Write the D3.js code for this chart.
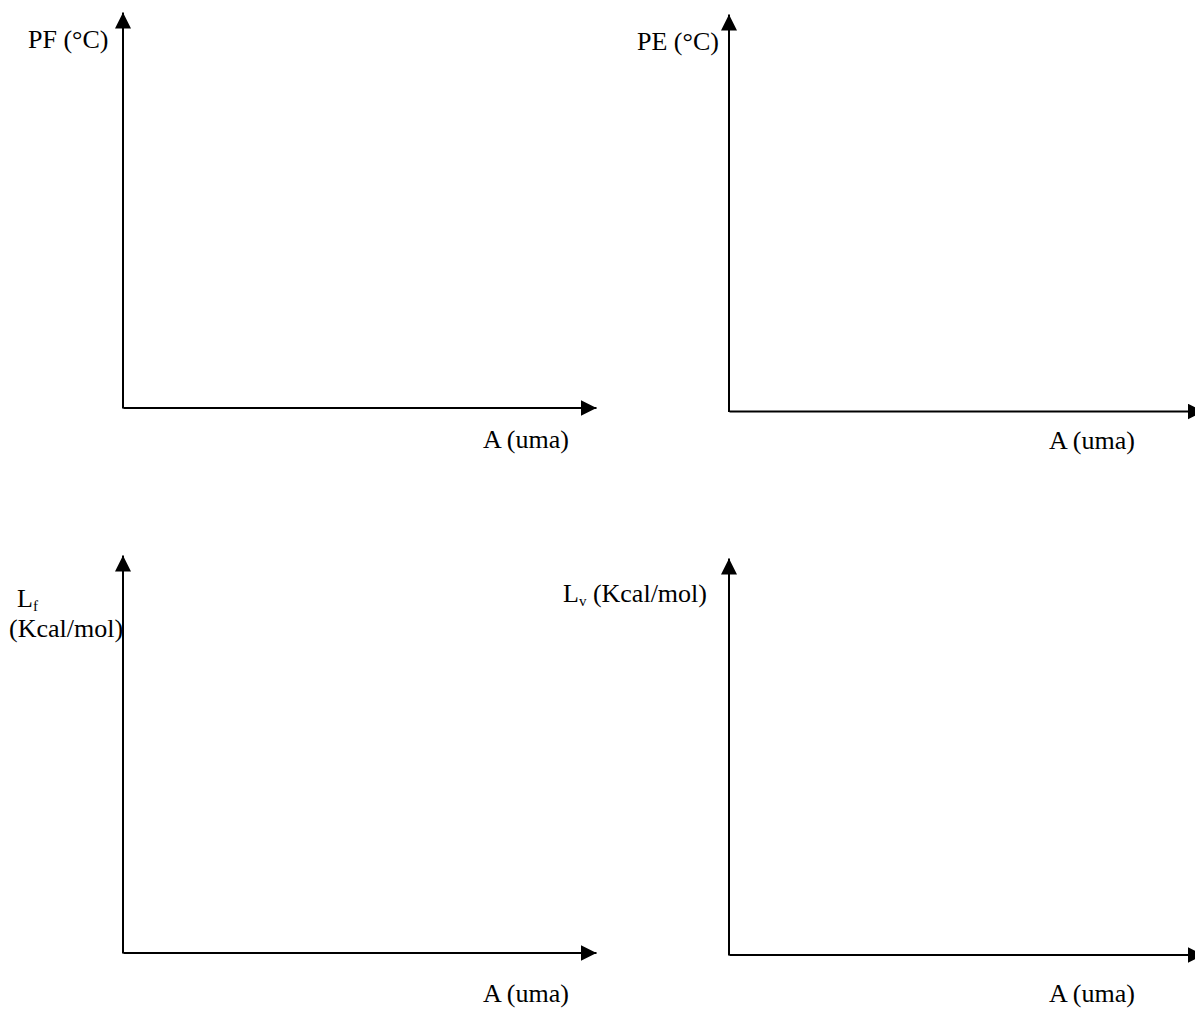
<!DOCTYPE html>
<html>
<head>
<meta charset="utf-8">
<script src="https://cdn.jsdelivr.net/npm/d3@7"></script>
<style>
  html, body { margin: 0; padding: 0; background: #fff; }
  svg { display: block; }
  text { font-family: "Liberation Serif", "Times New Roman", serif; fill: #000; }
</style>
</head>
<body>
<svg id="chart" width="1195" height="1009"></svg>
<script>
// Panel content (empty axes sketch: no data series)
const panelIds = ["pf", "pe", "lf", "lv"];
const yLabelMain = ["PF (°C)", "PE (°C)", "L", "L"];
const yLabelSub = ["", "", "f", "v"];
const yLabelRest = ["", "", "(Kcal/mol)", " (Kcal/mol)"];
const xLabels = ["A (uma)", "A (uma)", "A (uma)", "A (uma)"];
const xDomain = [0, 1];
const yDomain = [0, 1];

// Layout (pixel geometry)
const layout = [
  { ox: 123, oy: 408,   xTip: 596,  yTip: 12,  ylx: 28,  yly: 48,  xlx: 483,  xly: 448,  twoLine: false },
  { ox: 729, oy: 411.5, xTip: 1203, yTip: 14,  ylx: 637, yly: 50,  xlx: 1049, xly: 449,  twoLine: false },
  { ox: 123, oy: 953,   xTip: 596,  yTip: 555, ylx: 17,  yly: 607, xlx: 483,  xly: 1002, twoLine: true, l2x: 9, l2y: 637 },
  { ox: 729, oy: 955,   xTip: 1203, yTip: 558, ylx: 563, yly: 602, xlx: 1049, xly: 1002, twoLine: false }
];

const svg = d3.select("#chart");
const defs = svg.append("defs");
defs.append("marker")
  .attr("id", "arrow")
  .attr("viewBox", "0 -8 16 16")
  .attr("refX", 16).attr("refY", 0)
  .attr("markerWidth", 16).attr("markerHeight", 16)
  .attr("markerUnits", "userSpaceOnUse")
  .attr("orient", "auto")
  .append("path")
  .attr("d", "M0,-8L16,0L0,8Z")
  .attr("fill", "#000");

const FS = 26;

panelIds.forEach((id, i) => {
  const L = layout[i];
  const g = svg.append("g").attr("class", "panel-" + id);

  const x = d3.scaleLinear().domain(xDomain).range([L.ox, L.xTip]);
  const y = d3.scaleLinear().domain(yDomain).range([L.oy, L.yTip]);

  const xAxis = d3.axisBottom(x).tickValues([]).tickSizeOuter(0);
  const yAxis = d3.axisLeft(y).tickValues([]).tickSizeOuter(0);

  const gx = g.append("g").attr("transform", `translate(0,${L.oy - 0.5})`).call(xAxis);
  const gy = g.append("g").attr("transform", `translate(${L.ox - 0.5},0)`).call(yAxis);
  [gx, gy].forEach(a => a.select(".domain")
    .attr("stroke", "#000")
    .attr("stroke-width", 2)
    .attr("marker-end", "url(#arrow)"));

  // y label
  const t = g.append("text")
    .attr("x", L.ylx).attr("y", L.yly)
    .attr("font-size", FS);
  t.append("tspan").text(yLabelMain[i]);
  if (yLabelSub[i]) {
    t.append("tspan").attr("font-size", 15).attr("dy", 4).text(yLabelSub[i]);
    if (!L.twoLine) {
      t.append("tspan").attr("dy", -4).text(yLabelRest[i]);
    }
  }
  if (L.twoLine) {
    g.append("text")
      .attr("x", L.l2x).attr("y", L.l2y)
      .attr("font-size", FS)
      .text(yLabelRest[i]);
  }

  // x label
  g.append("text")
    .attr("x", L.xlx).attr("y", L.xly)
    .attr("font-size", FS)
    .text(xLabels[i]);
});
</script>
</body>
</html>
